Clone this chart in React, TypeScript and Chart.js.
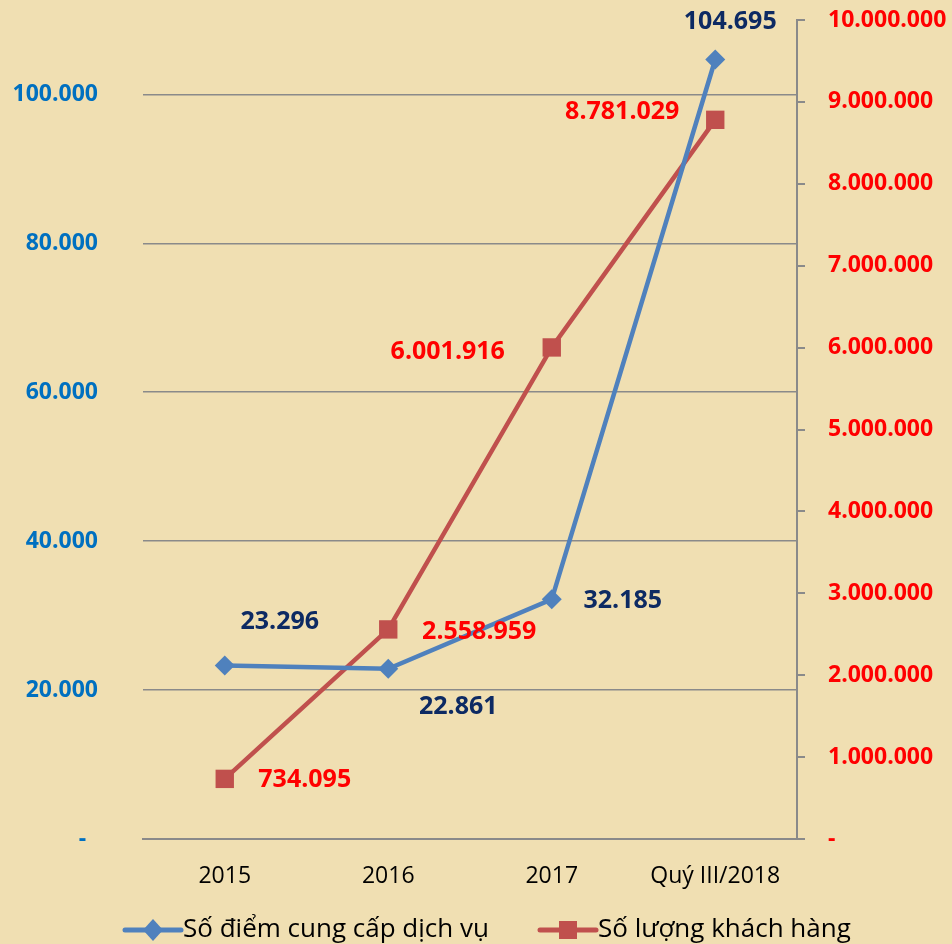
import React, { useEffect, useRef } from "react";
import { Chart, registerables } from "chart.js";

Chart.register(...registerables);

const categories = ["2015", "2016", "2017", "Quý III/2018"];
const serviceLabel = "Số điểm cung cấp dịch vụ";
const customerLabel = "Số lượng khách hàng";
const servicePoints = [23296, 22861, 32185, 104695];
const customers = [734095, 2558959, 6001916, 8781029];
const leftTicks = [0, 20000, 40000, 60000, 80000, 100000];
const rightTicks = [0, 1000000, 2000000, 3000000, 4000000, 5000000, 6000000, 7000000, 8000000, 9000000, 10000000];

const BLUE = "#4F81BD";
const RED = "#C0504D";
const NAVY = "#0D2A63";
const BG = "#F0DFB2";
const AXIS_GRAY = "#8A8A8A";

const fmt = (v: number) => (v === 0 ? "-" : v.toString().replace(/\B(?=(\d{3})+(?!\d))/g, "."));

// label offsets relative to point (style only)
const labelOffsets: number[][][] = [
  [[55, -44], [70, 38], [71, 2], [15, -38]],
  [[80, 1], [91, 2], [-104, 4], [-93, -8]],
];

const bgPlugin = {
  id: "bg",
  beforeDraw(chart: any) {
    const { ctx, width, height } = chart;
    ctx.save();
    ctx.fillStyle = BG;
    ctx.fillRect(0, 0, width, height);
    ctx.restore();
  },
};

const rightTickMarks = {
  id: "rightTickMarks",
  afterDraw(chart: any) {
    const scale = chart.scales.y1;
    const { ctx } = chart;
    ctx.save();
    ctx.strokeStyle = AXIS_GRAY;
    ctx.lineWidth = 2;
    rightTicks.forEach((v) => {
      const y = Math.round(scale.getPixelForValue(v));
      ctx.beginPath();
      ctx.moveTo(scale.left, y);
      ctx.lineTo(scale.left + 8, y);
      ctx.stroke();
    });
    ctx.restore();
  },
};

const labelPlugin = {
  id: "dataLabels",
  afterDatasetsDraw(chart: any) {
    const { ctx } = chart;
    ctx.save();
    ctx.font = "bold 25px 'Open Sans'";
    ctx.textAlign = "center";
    ctx.textBaseline = "middle";
    chart.data.datasets.forEach((ds: any, i: number) => {
      const meta = chart.getDatasetMeta(i);
      ctx.fillStyle = i === 0 ? NAVY : "#FF0000";
      meta.data.forEach((pt: any, j: number) => {
        const off = labelOffsets[i][j];
        ctx.fillText(fmt(ds.data[j]), pt.x + off[0], pt.y + off[1]);
      });
    });
    ctx.restore();
  },
};

const legendPlugin = {
  id: "customLegend",
  afterDraw(chart: any) {
    const { ctx } = chart;
    const y = 930;
    const items = [
      { x: 125, text: serviceLabel, color: BLUE, style: "diamond" },
      { x: 540, text: customerLabel, color: RED, style: "square" },
    ];
    ctx.save();
    items.forEach((it) => {
      ctx.strokeStyle = it.color;
      ctx.lineWidth = 5;
      ctx.lineCap = "round";
      ctx.beginPath();
      ctx.moveTo(it.x, y);
      ctx.lineTo(it.x + 56, y);
      ctx.stroke();
      ctx.fillStyle = it.color;
      const cx = it.x + 28;
      ctx.beginPath();
      if (it.style === "diamond") {
        ctx.moveTo(cx, y - 11);
        ctx.lineTo(cx + 10, y);
        ctx.lineTo(cx, y + 11);
        ctx.lineTo(cx - 10, y);
        ctx.closePath();
      } else {
        ctx.rect(cx - 9, y - 9, 18, 18);
      }
      ctx.fill();
      ctx.fillStyle = "#000";
      ctx.font = "26px 'Open Sans'";
      ctx.textAlign = "left";
      ctx.textBaseline = "middle";
      ctx.fillText(it.text, it.x + 58, y);
    });
    ctx.restore();
  },
};

export default function App() {
  const ref = useRef<HTMLCanvasElement>(null);
  useEffect(() => {
    if (!ref.current) return;
    const chart = new Chart(ref.current, {
      type: "line",
      data: {
        labels: categories,
        datasets: [
          {
            label: serviceLabel,
            data: servicePoints,
            yAxisID: "y",
            borderColor: BLUE,
            backgroundColor: BLUE,
            borderWidth: 4.5,
            pointStyle: "rectRot",
            pointRadius: 10,
            pointBorderWidth: 0,
            tension: 0,
          },
          {
            label: customerLabel,
            data: customers,
            yAxisID: "y1",
            borderColor: RED,
            backgroundColor: RED,
            borderWidth: 4.5,
            pointStyle: "rect",
            pointRadius: 13,
            pointBorderWidth: 0,
            tension: 0,
          },
        ],
      },
      options: {
        responsive: false,
        animation: false,
        layout: { padding: { top: 20, left: 0, right: 0, bottom: 0 } },
        plugins: {
          legend: { display: false },
          tooltip: { enabled: false },
        },
        scales: {
          x: {
            offset: true,
            grid: { display: false, drawTicks: false },
            border: { display: true, color: AXIS_GRAY, width: 2 },
            ticks: {
              color: "#000",
              font: { family: "'Open Sans'", size: 23 },
              padding: 24,
              maxRotation: 0,
            },
            afterFit(scale: any) {
              scale.height = 105;
            },
          },
          y: {
            position: "left",
            min: 0,
            max: 110000,
            afterBuildTicks(scale: any) {
              scale.ticks = leftTicks.map((v) => ({ value: v }));
            },
            grid: { color: AXIS_GRAY, lineWidth: 1.6, drawTicks: true, tickLength: 45, tickColor: "rgba(0,0,0,0)" },
            border: { display: false },
            ticks: {
              color: "#0070C0",
              font: { family: "'Open Sans'", size: 23, weight: "bold" },
              padding: 0,
              callback: (v: any) => (Number(v) === 0 ? "-  " : fmt(Number(v))),
            },
            afterFit(scale: any) {
              scale.width = 143;
            },
          },
          y1: {
            position: "right",
            min: 0,
            max: 10000000,
            afterBuildTicks(scale: any) {
              scale.ticks = rightTicks.map((v) => ({ value: v }));
            },
            grid: { drawOnChartArea: false, drawTicks: true, tickLength: 31, tickColor: "rgba(0,0,0,0)" },
            border: { display: true, color: AXIS_GRAY, width: 2 },
            ticks: {
              color: "#FF0000",
              font: { family: "'Open Sans'", size: 23, weight: "bold" },
              padding: 0,
              callback: (v: any) => fmt(Number(v)),
            },
            afterFit(scale: any) {
              scale.width = 155;
            },
          },
        },
      },
      plugins: [bgPlugin, rightTickMarks, labelPlugin, legendPlugin],
    });
    return () => chart.destroy();
  }, []);
  return (
    <div style={{ position: "absolute", left: 0, top: 0, width: 952, height: 944 }}>
      <canvas ref={ref} width={952} height={944} style={{ display: "block" }} />
    </div>
  );
}
